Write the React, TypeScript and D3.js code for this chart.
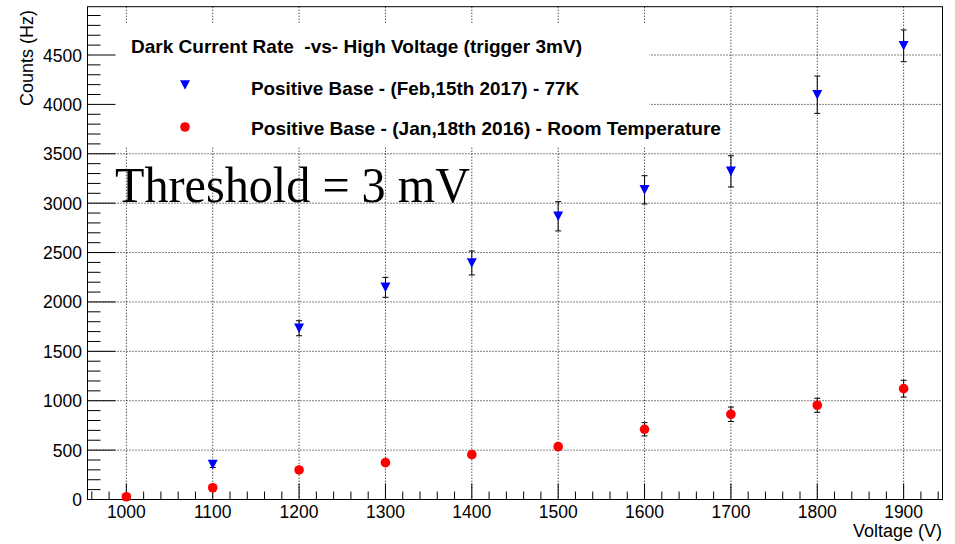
import React from "react";
import * as d3 from "d3";

const blueVoltages = [1100, 1200, 1300, 1400, 1500, 1600, 1700, 1800, 1900];
const blueCounts = [354, 1734, 2148, 2394, 2867, 3135, 3322, 4098, 4593];
const blueErrors = [30, 76, 101, 121, 148, 143, 158, 189, 161];

const redVoltages = [1000, 1100, 1200, 1300, 1400, 1500, 1600, 1700, 1800, 1900];
const redCounts = [28, 119, 299, 373, 454, 535, 711, 863, 954, 1122];
const redErrors = [8, 15, 25, 28, 30, 32, 67, 73, 71, 85];

const xTickValues = [1000, 1100, 1200, 1300, 1400, 1500, 1600, 1700, 1800, 1900];
const yTickValues = [0, 500, 1000, 1500, 2000, 2500, 3000, 3500, 4000, 4500];

const legendTitle = "Dark Current Rate  -vs- High Voltage (trigger 3mV)";
const legendBlue = "Positive Base - (Feb,15th 2017) - 77K";
const legendRed = "Positive Base - (Jan,18th 2016) - Room Temperature";
const annotation = "Threshold = 3 mV";
const xTitle = "Voltage (V)";
const yTitle = "Counts (Hz)";

const W = 955;
const H = 544;
const L = 87.5;
const R = 942.5;
const T = 6.7;
const B = 499.5;

const SANS = "'Liberation Sans', Arial, Helvetica, sans-serif";

export default function App() {
  const x = d3.scaleLinear().domain([955, 1945]).range([L, R]);
  const y = d3.scaleLinear().domain([0, 4989]).range([B, T]);

  const xMinor = d3.range(960, 1945, 20).filter((v) => v % 100 !== 0);
  const yMinor = d3.range(100, 4989, 100).filter((v) => v % 500 !== 0);

  const tri = (cx: number, cy: number) =>
    `M${cx - 5},${cy - 4.8}L${cx + 5},${cy - 4.8}L${cx},${cy + 4.8}Z`;

  const errBar = (xv: number, v: number, e: number, key: string) => {
    const cx = x(xv);
    const y1 = y(v + e);
    const y2 = y(v - e);
    return (
      <g key={key} stroke="#000" strokeWidth={1}>
        <line x1={cx} x2={cx} y1={y1} y2={y2} />
        <line x1={cx - 3} x2={cx + 3} y1={y1} y2={y1} />
        <line x1={cx - 3} x2={cx + 3} y1={y2} y2={y2} />
      </g>
    );
  };

  return (
    <svg
      width={W}
      height={H}
      style={{ position: "absolute", left: 0, top: 0, background: "#fff" }}
    >
      <rect x={0} y={0} width={W} height={H} fill="#fff" />
      {/* grid */}
      <g stroke="#000" strokeWidth={1} strokeDasharray="1,2">
        {xTickValues.map((v) => (
          <line key={"gx" + v} x1={x(v)} x2={x(v)} y1={T} y2={B} />
        ))}
        {yTickValues
          .filter((v) => v > 0)
          .map((v) => (
            <line key={"gy" + v} x1={L} x2={R} y1={y(v)} y2={y(v)} />
          ))}
      </g>
      {/* legend box */}
      <rect x={88.5} y={24} width={561} height={123} fill="#fff" />
      {/* frame */}
      <rect x={L} y={T} width={R - L} height={B - T} fill="none" stroke="#000" strokeWidth={1} />
      {/* ticks */}
      <g stroke="#000" strokeWidth={1}>
        {xTickValues.map((v) => (
          <line key={"tx" + v} x1={x(v)} x2={x(v)} y1={B} y2={B - 16} />
        ))}
        {xMinor.map((v) => (
          <line key={"mx" + v} x1={x(v)} x2={x(v)} y1={B} y2={B - 8} />
        ))}
        {yTickValues.map((v) => (
          <line key={"ty" + v} x1={L} x2={L + 28} y1={y(v)} y2={y(v)} />
        ))}
        {yMinor.map((v) => (
          <line key={"my" + v} x1={L} x2={L + 13} y1={y(v)} y2={y(v)} />
        ))}
      </g>
      {/* tick labels */}
      <g fontFamily={SANS} fontSize={17.5} fill="#000">
        {xTickValues.map((v) => (
          <text key={"lx" + v} x={x(v)} y={518} textAnchor="middle">
            {v}
          </text>
        ))}
        {yTickValues.map((v) => (
          <text key={"ly" + v} x={82} y={y(v) + 6.5} textAnchor="end">
            {v}
          </text>
        ))}
      </g>
      {/* axis titles */}
      <text x={942} y={537} textAnchor="end" fontFamily={SANS} fontSize={18}>
        {xTitle}
      </text>
      <text
        transform="translate(32.5,10) rotate(-90)"
        textAnchor="end"
        fontFamily={SANS}
        fontSize={18}
      >
        {yTitle}
      </text>
      {/* error bars */}
      {redVoltages.map((v, i) => errBar(v, redCounts[i], redErrors[i], "er" + v))}
      {blueVoltages.map((v, i) => errBar(v, blueCounts[i], blueErrors[i], "eb" + v))}
      {/* markers */}
      {redVoltages.map((v, i) => (
        <circle key={"r" + v} cx={x(v)} cy={y(redCounts[i])} r={4.8} fill="#ff0000" />
      ))}
      {blueVoltages.map((v, i) => (
        <path key={"b" + v} d={tri(x(v), y(blueCounts[i]))} fill="#0000ff" />
      ))}
      {/* legend */}
      <g fontFamily={SANS} fontWeight="bold" fontSize={19} fill="#000" style={{ whiteSpace: "pre" }}>
        <text x={131} y={53} textLength={451} lengthAdjust="spacingAndGlyphs" xmlSpace="preserve">
          {legendTitle}
        </text>
        <text x={251} y={95} textLength={328} lengthAdjust="spacingAndGlyphs">
          {legendBlue}
        </text>
        <text x={251} y={135} textLength={470} lengthAdjust="spacingAndGlyphs">
          {legendRed}
        </text>
      </g>
      <path d={tri(185, 85)} fill="#0000ff" />
      <circle cx={185} cy={127} r={4.8} fill="#ff0000" />
      {/* annotation */}
      <text
        x={115}
        y={202}
        fontFamily="'Liberation Serif', 'Times New Roman', serif"
        fontSize={50}
        textLength={355}
        lengthAdjust="spacingAndGlyphs"
        fill="#000"
      >
        {annotation}
      </text>
    </svg>
  );
}
